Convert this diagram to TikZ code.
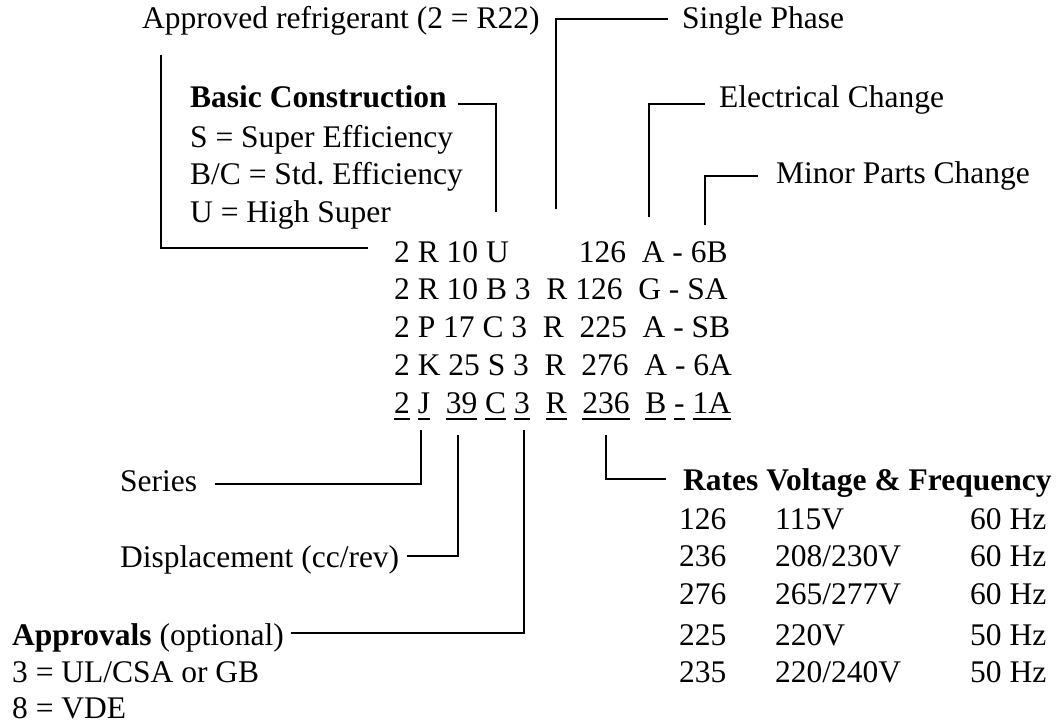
\documentclass[tikz,border=0pt]{standalone}
\usepackage{fontspec}
\setmainfont{Liberation Serif}
\usetikzlibrary{calc}
\newcommand\fs{\fontsize{31.5pt}{37.75pt}\selectfont\frenchspacing}
\newcommand\ulx[1]{\setbox0\hbox{#1}\rlap{\rule[-6.5pt]{\wd0}{1.3pt}}\box0\relax}
\begin{document}
\begin{tikzpicture}[x=1pt,y=-1pt,
  lbl/.style={font=\fs, inner sep=0pt, anchor=base west},
  conn/.style={line width=2.7pt}]
\useasboundingbox (0,0) rectangle (1059,725);
% top labels
\node[lbl] (appr) at (142,29) {Approved refrigerant (2 = R22)};
\node[lbl] (single) at (682,29) {Single Phase};
\node[lbl] (basic) at (190,107) {\textbf{Basic Construction}};
\node[lbl] (bc1) at (190,147) {S = Super Efficiency};
\node[lbl] (bc2) at (190,184) {B/C = Std. Efficiency};
\node[lbl] (bc3) at (190,222) {U = High Super};
\node[lbl] (elec) at (719,107) {Electrical Change};
\node[lbl] (minor) at (776,183) {Minor Parts Change};
% code rows
\node[lbl] (r1) at (394,262) {2 R 10 U\hspace{70pt}126~~A - 6B};
\node[lbl] (r2) at (394,299.75) {2 R 10 B 3~~R 126~~G - SA};
\node[lbl] (r3) at (394,337.5) {2 P 17 C 3~~R~~225~~A - SB};
\node[lbl] (r4) at (394,375.25) {2 K 25 S 3~~R~~276~~A - 6A};
\node[lbl] (r5) at (394,413) {\ulx{2} \ulx{J}~~\ulx{39} \ulx{C} \ulx{3}~~\ulx{R}~~\ulx{236}~~\ulx{B} \ulx{-} \ulx{1A}};
% bottom labels
\node[lbl] (series) at (120,491) {Series};
\node[lbl] (disp) at (120,567) {Displacement (cc/rev)};
\node[lbl] (appv) at (12,645) {\textbf{Approvals} (optional)};
\node[lbl] (appv1) at (12,682) {3 = UL/CSA or GB};
\node[lbl] (appv2) at (12,718) {8 = VDE};
\node[lbl] (rates) at (683,490) {\textbf{Rates Voltage \& Frequency}};
% table
\node[lbl] (t1a) at (679,529.3) {126};
\node[lbl] (t1b) at (775,529.3) {115V};
\node[lbl] (t1c) at (970,529.3) {60 Hz};
\node[lbl] (t2a) at (679,566.7) {236};
\node[lbl] (t2b) at (775,566.7) {208/230V};
\node[lbl] (t2c) at (970,566.7) {60 Hz};
\node[lbl] (t3a) at (679,604) {276};
\node[lbl] (t3b) at (775,604) {265/277V};
\node[lbl] (t3c) at (970,604) {60 Hz};
\node[lbl] (t4a) at (679,645) {225};
\node[lbl] (t4b) at (775,645) {220V};
\node[lbl] (t4c) at (970,645) {50 Hz};
\node[lbl] (t5a) at (679,682.7) {235};
\node[lbl] (t5b) at (775,682.7) {220/240V};
\node[lbl] (t5c) at (970,682.7) {50 Hz};
% connectors
\draw[conn] ($(appr.base west)+(19,26)$) |- ($(r1.base west)+(-26,-14)$);
\draw[conn] ($(basic.base east)+(11,-3)$) -| ($(r1.base west)+(102,-50)$);
\draw[conn] ($(r1.base west)+(162,-53)$) |- ($(single.base west)+(-14,-10)$);
\draw[conn] ($(r1.base west)+(255,-45)$) |- ($(elec.base west)+(-14,-3)$);
\draw[conn] ($(r1.base west)+(311,-37)$) |- ($(minor.base west)+(-18,-7)$);
\draw[conn] ($(series.base east)+(18,-7)$) -| ($(r5.base west)+(27,17)$);
\draw[conn] ($(disp.base east)+(8,-11)$) -| ($(r5.base west)+(64,22)$);
\draw[conn] ($(appv.base east)+(7,-12)$) -| ($(r5.base west)+(130,17)$);
\draw[conn] ($(r5.base west)+(212,22)$) |- ($(rates.base west)+(-17,-11)$);
\end{tikzpicture}
\end{document}
